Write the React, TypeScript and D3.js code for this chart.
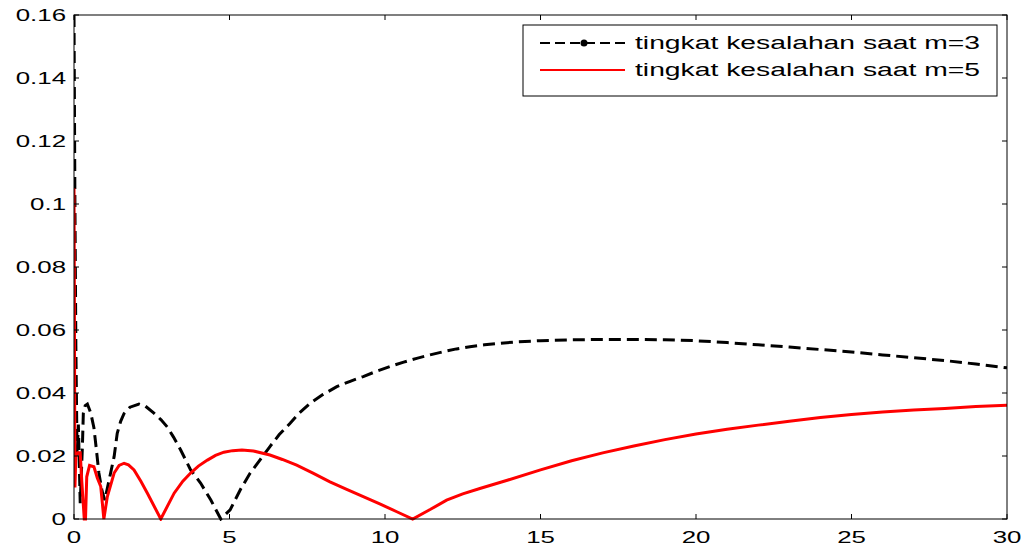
import React from "react";
import * as d3 from "d3";

const width = 1028;
const height = 548;
const margin = { top: 15, right: 21, bottom: 29, left: 74 };

// x ticks and y ticks
const xTicks = [0, 5, 10, 15, 20, 25, 30];
const yTicks = [0, 0.02, 0.04, 0.06, 0.08, 0.1, 0.12, 0.14, 0.16];

const seriesNames = ["tingkat kesalahan saat m=3", "tingkat kesalahan saat m=5"];

// m=3 error curve
const m3X = [0, 0.03, 0.06, 0.1, 0.14, 0.2, 0.27, 0.3, 0.36, 0.43, 0.54, 0.64, 0.72, 0.8, 0.9, 0.99, 1.13, 1.29, 1.39, 1.5, 1.61, 1.8, 2.09, 2.3, 2.57, 2.8, 3.0, 3.2, 3.43, 3.75, 4.07, 4.4, 4.72, 5.02, 5.36, 5.66, 6.0, 6.3, 6.6, 6.95, 7.25, 7.59, 8.0, 8.45, 8.9, 9.3, 9.7, 10.16, 10.6, 11.02, 11.45, 11.87, 12.3, 12.73, 13.2, 13.7, 14.3, 15, 16, 17, 18, 19, 20, 21, 22, 23, 24, 25, 26, 27, 28, 29, 30];
const m3Y = [0.16, 0.1, 0.055, 0.02, 0.03, 0.005, 0.023, 0.0336, 0.036, 0.0365, 0.0336, 0.029, 0.022, 0.0146, 0.009, 0.006, 0.0124, 0.0198, 0.0272, 0.031, 0.0335, 0.0355, 0.0365, 0.0358, 0.0336, 0.0315, 0.0292, 0.026, 0.0219, 0.0156, 0.0114, 0.006, 0.0, 0.0029, 0.0095, 0.0145, 0.019, 0.023, 0.0268, 0.0304, 0.0337, 0.0367, 0.0395, 0.042, 0.0438, 0.0452, 0.0468, 0.0484, 0.0498, 0.051, 0.0521, 0.0531, 0.054, 0.0547, 0.0553, 0.0558, 0.0563, 0.0566, 0.0569, 0.057, 0.057, 0.0569, 0.0566, 0.056, 0.0553, 0.0546, 0.0538, 0.053, 0.0521, 0.0512, 0.0503, 0.0492, 0.048];

// m=5 error curve
const m5X = [0, 0.015, 0.03, 0.06, 0.12, 0.2, 0.25, 0.33, 0.37, 0.41, 0.5, 0.64, 0.75, 0.86, 0.96, 1.07, 1.29, 1.45, 1.61, 1.75, 1.93, 2.15, 2.36, 2.79, 3.22, 3.5, 3.75, 4.0, 4.29, 4.55, 4.82, 5.1, 5.4, 5.77, 6.3, 6.7, 7.16, 7.7, 8.23, 8.75, 9.3, 9.85, 10.38, 10.89, 11.45, 11.98, 12.5, 13.05, 13.96, 15, 16, 17, 18, 19, 20, 21, 22, 23, 24, 25, 26, 27, 28, 29, 30];
const m5Y = [0.105, 0.06, 0.01, 0.02, 0.021, 0.021, 0.012, 0.0, 0.0, 0.0134, 0.017, 0.0166, 0.013, 0.0103, 0.0, 0.007, 0.0146, 0.017, 0.0177, 0.0172, 0.0156, 0.012, 0.0082, 0.0, 0.0082, 0.012, 0.0146, 0.0168, 0.0187, 0.0202, 0.0212, 0.0217, 0.0219, 0.0216, 0.0203, 0.0189, 0.0171, 0.0145, 0.0118, 0.0095, 0.0071, 0.0047, 0.0023, 0.0, 0.003, 0.006, 0.008, 0.0097, 0.0124, 0.0156, 0.0185, 0.021, 0.0232, 0.0252, 0.027, 0.0285, 0.0298, 0.031, 0.0322, 0.0332, 0.034, 0.0346, 0.0351, 0.0357, 0.0361];

const font = "'Liberation Sans', Arial, sans-serif";
const stretch = 1.52;

export default function App() {
  const xScale = d3.scaleLinear().domain([0, 30]).range([margin.left, width - margin.right]);
  const yScale = d3.scaleLinear().domain([0, 0.16]).range([height - margin.bottom, margin.top]);

  const line = d3
    .line<[number, number]>()
    .x(d => xScale(d[0]))
    .y(d => yScale(d[1]));

  const m3 = line(m3X.map((x, i) => [x, m3Y[i]] as [number, number]));
  const m5 = line(m5X.map((x, i) => [x, m5Y[i]] as [number, number]));

  const x0 = margin.left;
  const x1 = width - margin.right;
  const y0 = height - margin.bottom;
  const y1 = margin.top;
  const tl = 5;

  const lg = { x: 523, y: 25, w: 474, h: 71 };

  return (
    <svg width={width} height={height} style={{ position: "absolute", left: 0, top: 0, background: "#fff" }}>
      <rect x={0} y={0} width={width} height={height} fill="#fff" />
      <defs>
        <clipPath id="plotClip">
          <rect x={x0} y={y1 - 2} width={x1 - x0} height={y0 - y1 + 4} />
        </clipPath>
      </defs>
      <g clipPath="url(#plotClip)">
        <path d={m3 || ""} fill="none" stroke="#000" strokeWidth={3} strokeDasharray="12 6" />
        <path d={m5 || ""} fill="none" stroke="#ff0000" strokeWidth={3} />
      </g>
      {/* axes box */}
      <rect x={x0} y={y1} width={x1 - x0} height={y0 - y1} fill="none" stroke="#000" strokeWidth={1} />
      {xTicks.map(t => (
        <g key={"x" + t}>
          <line x1={xScale(t)} x2={xScale(t)} y1={y0} y2={y0 - tl} stroke="#000" />
          <line x1={xScale(t)} x2={xScale(t)} y1={y1} y2={y1 + tl} stroke="#000" />
          <text
            transform={`translate(${xScale(t)},${y0 + 24}) scale(${stretch},1)`}
            textAnchor="middle"
            fontFamily={font}
            fontSize={17}
          >
            {t}
          </text>
        </g>
      ))}
      {yTicks.map(t => (
        <g key={"y" + t}>
          <line x1={x0} x2={x0 + tl} y1={yScale(t)} y2={yScale(t)} stroke="#000" />
          <line x1={x1} x2={x1 - tl} y1={yScale(t)} y2={yScale(t)} stroke="#000" />
          <text
            transform={`translate(${x0 - 8},${yScale(t) + 6}) scale(${stretch},1)`}
            textAnchor="end"
            fontFamily={font}
            fontSize={17}
          >
            {String(+t.toFixed(2))}
          </text>
        </g>
      ))}
      {/* legend */}
      <rect x={lg.x} y={lg.y} width={lg.w} height={lg.h} fill="#fff" stroke="#000" strokeWidth={1} />
      <line x1={540} x2={625} y1={43} y2={43} stroke="#000" strokeWidth={2} strokeDasharray="10 5" />
      <circle cx={584} cy={43} r={3.5} fill="#000" />
      <line x1={540} x2={625} y1={70} y2={70} stroke="#ff0000" strokeWidth={2} />
      {seriesNames.map((name, i) => (
        <text
          key={name}
          x={635}
          y={49 + i * 27}
          fontFamily={font}
          fontSize={18}
          textLength={345}
          lengthAdjust="spacingAndGlyphs"
        >
          {name}
        </text>
      ))}
    </svg>
  );
}
